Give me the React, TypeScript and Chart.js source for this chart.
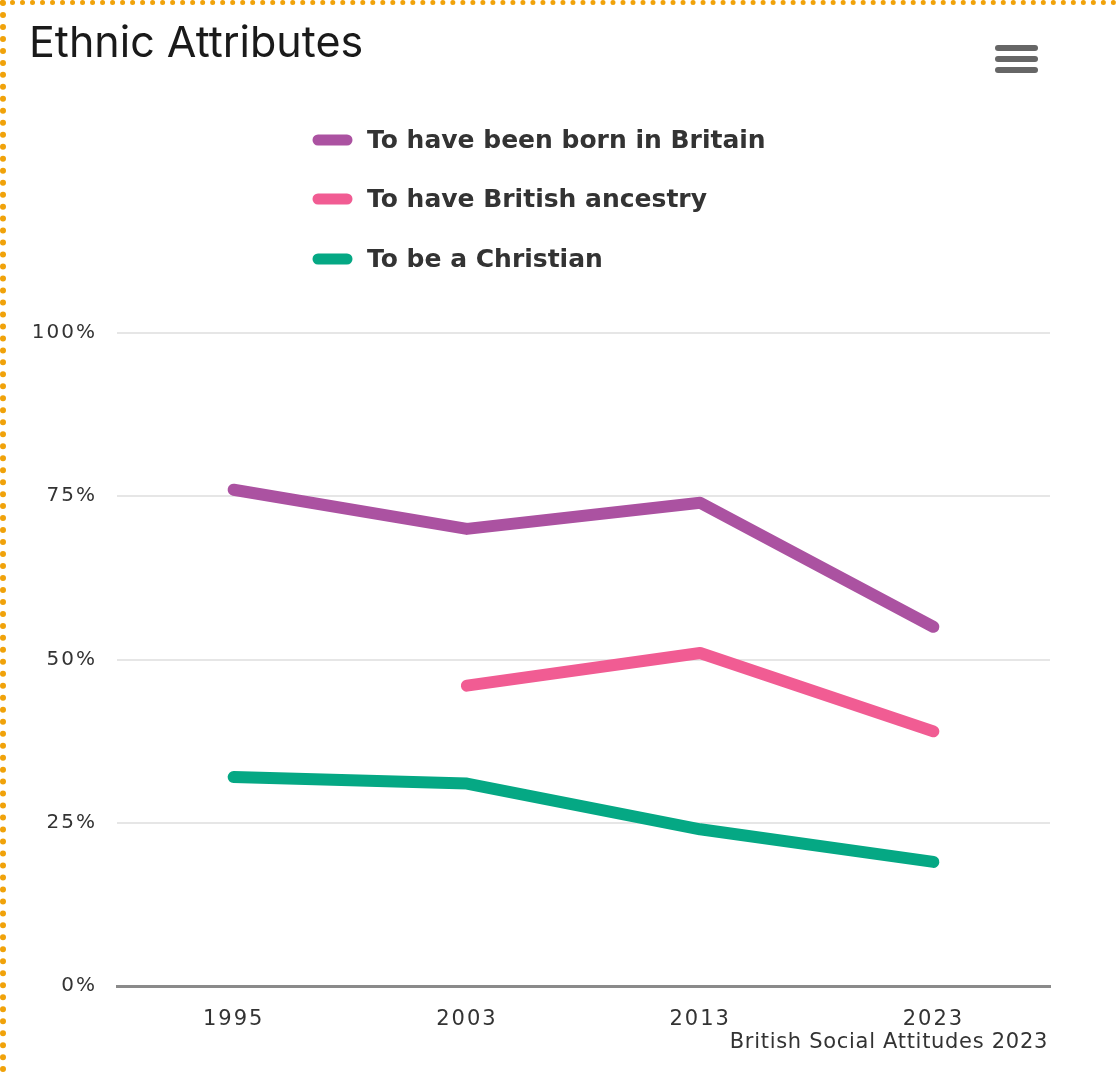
import React, { useEffect, useRef } from "react";
import { Chart, registerables } from "chart.js";

Chart.register(...registerables);

const categories = ["1995", "2003", "2013", "2023"];
const bornInBritain = [76, 70, 74, 55];
const britishAncestry = [null, 46, 51, 39];
const beChristian = [32, 31, 24, 19];
const seriesNames = ["To have been born in Britain", "To have British ancestry", "To be a Christian"];
const seriesColors = ["#ab52a1", "#f15c93", "#05a884"];
const yTicks = [0, 25, 50, 75, 100];
const titleText = "Ethnic Attributes";
const creditText = "British Social Attitudes 2023";

const W = 1117;
const H = 1073;
const FONT = "Inter, 'Open Sans', sans-serif";
const WIDE = "'DejaVu Sans', sans-serif";

const spacingPlugin = {
  id: "spacing",
  beforeDraw(chart: any) {
    chart.ctx.letterSpacing = "2px";
  },
  beforeDatasetsDraw(chart: any) {
    chart.ctx.letterSpacing = "0px";
  },
};

const decorPlugin = {
  id: "decor",
  afterDraw(chart: any) {
    const ctx = chart.ctx;
    ctx.save();
    ctx.letterSpacing = "0px";
    // title
    ctx.fillStyle = "#1a1a1a";
    ctx.font = `400 43px ${FONT}`;
    ctx.textAlign = "left";
    ctx.textBaseline = "alphabetic";
    ctx.fillText(titleText, 29, 57);
    // menu icon
    ctx.strokeStyle = "#666666";
    ctx.lineWidth = 6;
    ctx.lineCap = "round";
    [48, 59, 70].forEach((y) => {
      ctx.beginPath();
      ctx.moveTo(998, y);
      ctx.lineTo(1035, y);
      ctx.stroke();
    });
    // legend
    const ys = [140, 199, 259];
    chart.data.datasets.forEach((ds: any, i: number) => {
      ctx.strokeStyle = ds.borderColor;
      ctx.lineWidth = 11;
      ctx.lineCap = "round";
      ctx.beginPath();
      ctx.moveTo(318, ys[i]);
      ctx.lineTo(347, ys[i]);
      ctx.stroke();
      ctx.fillStyle = "#333333";
      ctx.font = `700 25px ${WIDE}`;
      ctx.textBaseline = "middle";
      ctx.fillText(ds.label, 367, ys[i] + 1);
    });
    // credit
    ctx.fillStyle = "#333333";
    ctx.font = `400 21px ${WIDE}`;
    ctx.letterSpacing = "0.7px";
    ctx.textAlign = "left";
    ctx.textBaseline = "middle";
    const w = ctx.measureText(creditText).width;
    ctx.fillText(creditText, 1048 - w, 1043);
    ctx.restore();
  },
};

export default function App() {
  const ref = useRef<HTMLCanvasElement>(null);
  useEffect(() => {
    if (!ref.current) return;
    const chart = new Chart(ref.current, {
      type: "line",
      data: {
        labels: categories,
        datasets: [
          { label: seriesNames[0], data: bornInBritain, borderColor: seriesColors[0], backgroundColor: seriesColors[0] },
          { label: seriesNames[1], data: britishAncestry as any, borderColor: seriesColors[1], backgroundColor: seriesColors[1] },
          { label: seriesNames[2], data: beChristian, borderColor: seriesColors[2], backgroundColor: seriesColors[2] },
        ],
      },
      options: {
        responsive: false,
        animation: false,
        devicePixelRatio: 1,
        layout: { padding: { left: 0, top: 333, right: W - 1050, bottom: 0 } },
        elements: {
          line: { borderWidth: 12, borderCapStyle: "round", borderJoinStyle: "round", tension: 0 },
          point: { radius: 0, hoverRadius: 0 },
        },
        plugins: {
          legend: { display: false },
          title: { display: false },
          tooltip: { enabled: false },
        },
        scales: {
          x: {
            offset: true,
            grid: { display: false, drawTicks: false },
            border: { display: true, color: "#8a8a8a", width: 3 },
            ticks: { color: "#333333", font: { family: WIDE, size: 21 }, padding: 21 },
            afterFit(scale: any) {
              scale.height = H - 986;
            },
          },
          y: {
            min: 0,
            max: 100,
            afterBuildTicks(scale: any) {
              scale.ticks = yTicks.map((v) => ({ value: v }));
            },
            grid: {
              drawTicks: false,
              color: (c: any) => (c.tick && c.tick.value === 0 ? "rgba(0,0,0,0)" : "#e6e6e6"),
              lineWidth: 2,
            },
            border: { display: false },
            ticks: {
              color: "#333333",
              padding: 20,
              font: { family: WIDE, size: 20 },
              callback: (v: any) => `${v}%`,
            },
            afterFit(scale: any) {
              scale.width = 117;
            },
          },
        },
      },
      plugins: [spacingPlugin, decorPlugin],
    });
    return () => chart.destroy();
  }, []);
  return (
    <div style={{ position: "fixed", left: 0, top: 0, width: W, height: H, background: "#fff" }}>
      <canvas ref={ref} width={W} height={H} style={{ position: "absolute", left: 0, top: 0, width: W, height: H }} />
      <div
        style={{
          position: "absolute",
          left: 0,
          top: 0,
          width: W,
          height: H,
          boxSizing: "border-box",
          borderTop: "5px dotted #f0a20a",
          borderLeft: "6px dotted #f0a20a",
          pointerEvents: "none",
        }}
      />
    </div>
  );
}
